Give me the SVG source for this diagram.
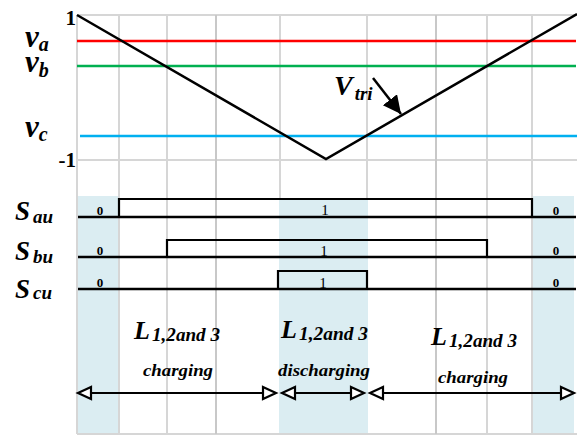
<svg xmlns="http://www.w3.org/2000/svg" width="577" height="437" viewBox="0 0 577 437">
<style>
.grid{stroke:#d6d6d6;stroke-width:2;fill:none}
.shade{fill:#dbedf2}
.sig{stroke:#000;stroke-width:2.2;fill:none}
text{font-family:'Liberation Serif','Times New Roman','DejaVu Serif',serif}
.lbl{font-weight:bold;font-style:italic;fill:#000}
.num{font-weight:bold;fill:#000}
.one{fill:#000;font-size:15px;text-anchor:middle}
.zero{font-weight:bold;fill:#000;font-size:13px;text-anchor:middle}
</style>
<defs>
<marker id="oh" markerUnits="userSpaceOnUse" markerWidth="18" markerHeight="18" refX="15" refY="8" orient="auto-start-reverse">
<path d="M2,2 L15,8 L2,14 z" fill="#fff" stroke="#000" stroke-width="2.2"/>
</marker>
<marker id="fh" markerUnits="userSpaceOnUse" markerWidth="22" markerHeight="22" refX="18" refY="9" orient="auto">
<path d="M0,0 L18,9 L0,18 z" fill="#000"/>
</marker>
</defs>
<rect width="577" height="437" fill="#fff"/>
<g id="shading">
<rect class="shade" x="78" y="196" width="41" height="238"/>
<rect class="shade" x="279" y="200" width="89" height="234"/>
<rect class="shade" x="532" y="196" width="42" height="238"/>
</g>
<g id="grid">
<line class="grid" x1="77" y1="15" x2="577" y2="15"/>
<line class="grid" x1="77" y1="160" x2="577" y2="160"/>
<line class="grid" x1="77" y1="434" x2="577" y2="434"/>
<line class="grid" x1="77" y1="15" x2="77" y2="434"/>
<line class="grid" x1="119" y1="15" x2="119" y2="434"/>
<line class="grid" x1="167" y1="15" x2="167" y2="434"/>
<line class="grid" x1="216" y1="15" x2="216" y2="434" style="stroke:#c8c8c8"/>
<line class="grid" x1="280" y1="15" x2="280" y2="200"/>
<line class="grid" x1="367" y1="15" x2="367" y2="200"/>
<line class="grid" x1="436" y1="15" x2="436" y2="434" style="stroke:#c8c8c8"/>
<line class="grid" x1="487" y1="15" x2="487" y2="434"/>
<line class="grid" x1="532" y1="15" x2="532" y2="434"/>
</g>
<g id="references">
<line x1="77" y1="41" x2="576" y2="41" stroke="#ff0000" stroke-width="2.5"/>
<line x1="77" y1="66" x2="576" y2="66" stroke="#00b050" stroke-width="2.5"/>
<line x1="80" y1="136" x2="577" y2="136" stroke="#00b0f0" stroke-width="2.5"/>
</g>
<g id="vtri">
<polyline points="77,15 326,159 577,14" fill="none" stroke="#000" stroke-width="2.5"/>
</g>
<g id="signals">
<line class="sig" x1="78" y1="217" x2="576" y2="217" style="stroke-width:2.6"/>
<polyline class="sig" points="119,217 119,199 532,199 532,217"/>
<line class="sig" x1="78" y1="257" x2="576" y2="257" style="stroke-width:2.4"/>
<polyline class="sig" points="167,257 167,240 487,240 487,257"/>
<line class="sig" x1="78" y1="289" x2="576" y2="289" style="stroke-width:2.4"/>
<polyline class="sig" points="278,289 278,271 367,271 367,289"/>
</g>
<g id="signal-values">
<text class="zero" x="100" y="215">0</text>
<text class="zero" x="100" y="255">0</text>
<text class="zero" x="100" y="287">0</text>
<text class="zero" x="556" y="215">0</text>
<text class="zero" x="556" y="255">0</text>
<text class="zero" x="556" y="287">0</text>
<text class="one" x="325" y="215">1</text>
<text class="one" x="324" y="256">1</text>
<text class="one" x="323" y="288">1</text>
</g>
<g id="axis-labels">
<text class="num" x="76" y="25" font-size="21" text-anchor="end">1</text>
<text class="num" x="76" y="167" font-size="21" text-anchor="end">-1</text>
<text class="lbl" font-size="31"><tspan x="25" y="47">v</tspan><tspan dy="4" font-size="20">a</tspan><tspan x="25" y="72">v</tspan><tspan dy="5" font-size="20">b</tspan></text>
<text class="lbl" x="25" y="137" font-size="31">v<tspan dy="4" font-size="20">c</tspan></text>
</g>
<g id="switch-labels">
<text class="lbl" x="15" y="220" font-size="27">S<tspan dx="3" dy="3" font-size="19">au</tspan></text>
<text class="lbl" x="15" y="260" font-size="27">S<tspan dx="3" dy="3" font-size="19">bu</tspan></text>
<text class="lbl" x="15" y="298" font-size="27">S<tspan dx="3" dy="1" font-size="19">cu</tspan></text>
</g>
<g id="vtri-label">
<text class="lbl" x="334" y="95" font-size="28">V<tspan dx="2" dy="5" font-size="19">tri</tspan></text>
<line x1="373" y1="78" x2="401" y2="114" stroke="#000" stroke-width="2.5" marker-end="url(#fh)"/>
</g>
<g id="region-1">
<text class="lbl" x="134" y="339" font-size="26">L</text>
<text class="lbl" x="152" y="341" font-size="18" textLength="68" lengthAdjust="spacingAndGlyphs">1,2and 3</text>
<text class="lbl" x="143" y="376" font-size="17" textLength="70" lengthAdjust="spacingAndGlyphs">charging</text>
</g>
<g id="region-2">
<text class="lbl" x="281" y="338" font-size="26">L</text>
<text class="lbl" x="299" y="340" font-size="18" textLength="69" lengthAdjust="spacingAndGlyphs">1,2and 3</text>
<text class="lbl" x="278" y="376" font-size="17" textLength="92" lengthAdjust="spacingAndGlyphs">discharging</text>
</g>
<g id="region-3">
<text class="lbl" x="431" y="345" font-size="26">L</text>
<text class="lbl" x="449" y="347" font-size="18" textLength="68" lengthAdjust="spacingAndGlyphs">1,2and 3</text>
<text class="lbl" x="438" y="383" font-size="17" textLength="70" lengthAdjust="spacingAndGlyphs">charging</text>
</g>
<g id="connectors">
<line x1="78" y1="393" x2="276" y2="393" stroke="#000" stroke-width="2.2" marker-start="url(#oh)" marker-end="url(#oh)"/>
<line x1="282" y1="393" x2="364" y2="393" stroke="#000" stroke-width="2.2" marker-start="url(#oh)" marker-end="url(#oh)"/>
<line x1="370" y1="393" x2="574" y2="393" stroke="#000" stroke-width="2.2" marker-start="url(#oh)" marker-end="url(#oh)"/>
</g>
</svg>
